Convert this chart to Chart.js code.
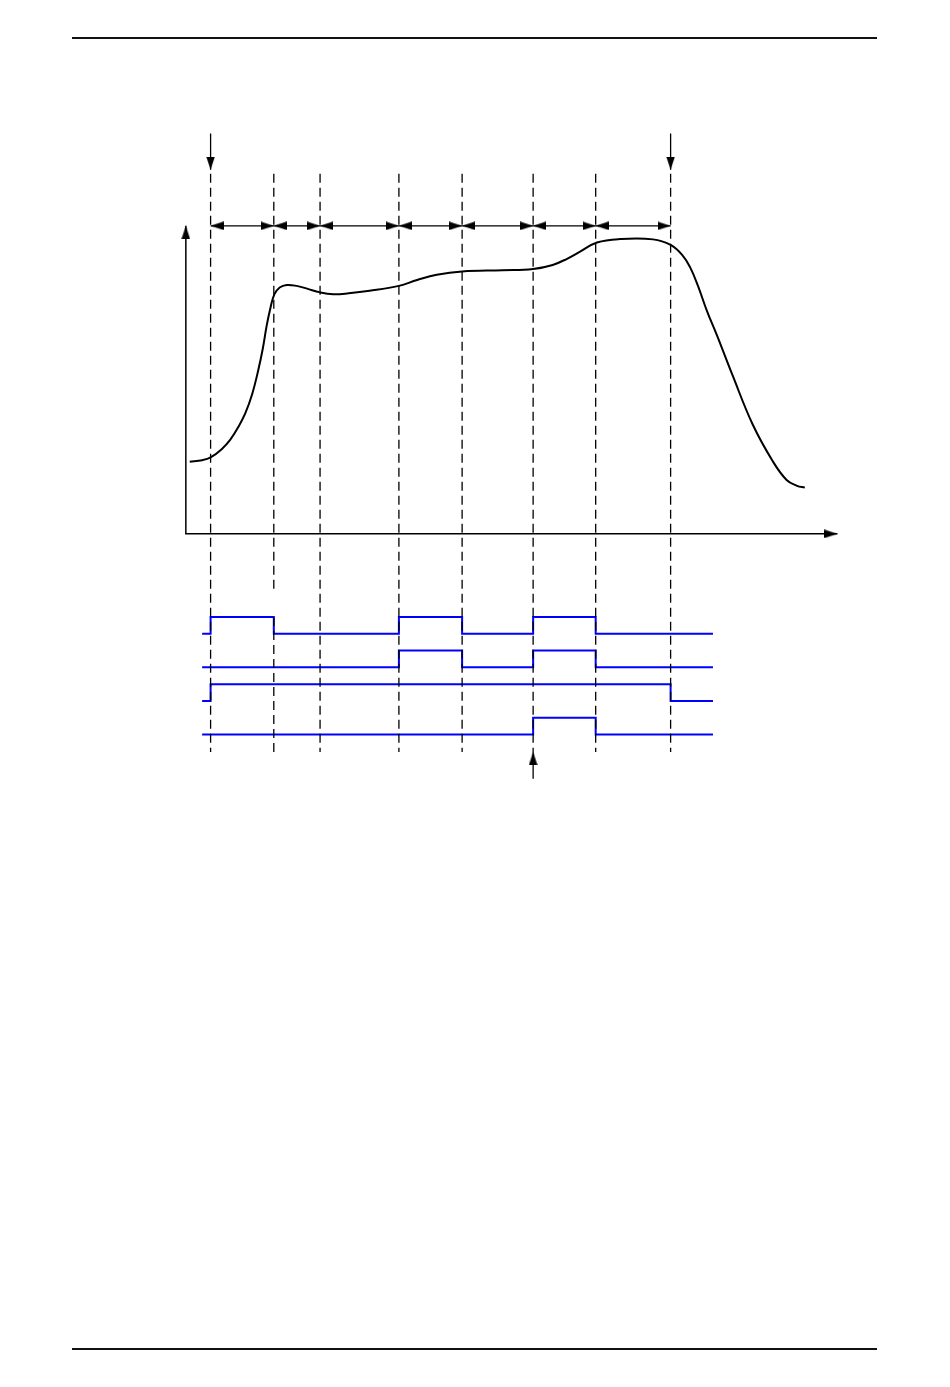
<!DOCTYPE html>
<html>
<head>
<meta charset="utf-8">
<title>Timing diagram</title>
<script src="https://cdn.jsdelivr.net/npm/chart.js@4.4.0/dist/chart.umd.min.js"></script>
<style>
    html, body { margin: 0; padding: 0; background: #fff; }
    body { width: 950px; height: 1387px; position: relative; overflow: hidden; }
    .rule { position: absolute; left: 72px; width: 805px; height: 2px; background: #111; }
    #chartBox { position: absolute; left: 150px; top: 110px; width: 720px; height: 690px; }
</style>
</head>
<body>
<div class="rule" style="top:37px"></div>
<div class="rule" style="top:1348px"></div>
<div id="chartBox"><canvas id="timingChart"></canvas></div>

<script>
// Time marks (dashed lines), in arbitrary time units
const edgeTimes = [3.8, 13.5, 20.6, 32.7, 42.4, 53.3, 62.9, 74.4];

// Main curve
const curveTimes  = [0.6, 2.5, 3.8, 5.5, 6.8, 8.0, 9.1, 10.2, 11.1, 11.8, 12.4, 13.0, 13.6, 14.4, 15.5, 17.0, 18.6, 20.6, 22.6, 25.0, 28.2, 32.7, 35.5, 38.5, 42.4, 48.6, 53.3, 56.3, 58.5, 60.5, 63.1, 66.6, 71.7, 74.4, 76.2, 77.4, 78.6, 80.0, 81.5, 83.9, 87.0, 90.1, 92.2, 93.8, 95.0];
const curveValues = [23.4, 23.9, 24.8, 27.5, 30.5, 34.5, 39.0, 45.5, 53.0, 60.0, 67.5, 73.5, 77.8, 80.0, 80.8, 80.5, 79.6, 78.4, 77.8, 78.1, 78.9, 80.5, 82.4, 84.1, 85.2, 85.6, 86.0, 87.3, 89.3, 91.6, 94.6, 95.7, 95.6, 93.8, 90.5, 86.5, 80.5, 72.2, 64.5, 51.5, 35.5, 23.5, 17.5, 15.6, 15.0];

// Logic signals: level in each segment (before first mark, between marks, after last mark)
const signal1 = [0, 1, 0, 0, 1, 0, 1, 0, 0];
const signal2 = [0, 0, 0, 0, 1, 0, 1, 0, 0];
const signal3 = [0, 1, 1, 1, 1, 1, 1, 1, 0];
const signal4 = [0, 0, 0, 0, 0, 0, 1, 0, 0];
const signals = [signal1, signal2, signal3, signal4];
const signalStart = 2.5;
const signalEnd = 80.9;

// Extents of the annotation lines (value units)
const axisTop = 100;
const axisEnd = 100;
const spanLevel = 100;
const markTop = 116.9;
const markBottom = -70.8;
const arrowTop = 130;
const arrowTip = 118.2;
const triggerLow = -79.5;

document.addEventListener("DOMContentLoaded", function () {
    // Small arrowhead image; tip sits at the image centre, points right at rotation 0
    const head = document.createElement("canvas");
    head.width = 26;
    head.height = 9;
    const hc = head.getContext("2d");
    hc.fillStyle = "#000";
    hc.beginPath();
    hc.moveTo(13, 4.5);
    hc.lineTo(0, 0.2);
    hc.lineTo(0, 8.8);
    hc.closePath();
    hc.fill();

    const datasets = [];

    // Dashed time marks (the second one is broken just above the signals)
    edgeTimes.forEach(function (t, i) {
        let pts = [{x: t, y: markTop}, {x: t, y: markBottom}];
        if (i === 1) {
            pts = [{x: t, y: markTop}, {x: t, y: -19}, {x: t, y: null}, {x: t, y: -27}, {x: t, y: markBottom}];
        }
        datasets.push({
            data: pts,
            showLine: true,
            spanGaps: false,
            borderColor: "#000",
            borderWidth: 1.3,
            borderDash: [9, 5],
            pointRadius: 0
        });
    });

    // Axes with arrowheads
    datasets.push({
        data: [{x: 0, y: axisTop}, {x: 0, y: 0}, {x: axisEnd, y: 0}],
        showLine: true,
        borderColor: "#000",
        borderWidth: 1.5,
        pointRadius: [6, 0, 6],
        pointStyle: head,
        rotation: [270, 0, 0]
    });

    // Double arrows between the marks
    const spanPts = [];
    const spanRot = [];
    edgeTimes.forEach(function (t, i) {
        if (i > 0) { spanPts.push({x: t, y: spanLevel}); spanRot.push(0); }
        if (i < edgeTimes.length - 1) { spanPts.push({x: t, y: spanLevel}); spanRot.push(180); }
    });
    datasets.push({
        data: spanPts,
        showLine: true,
        borderColor: "#000",
        borderWidth: 1.3,
        pointRadius: 6,
        pointStyle: head,
        rotation: spanRot
    });

    // Start / stop arrows on top
    [edgeTimes[0], edgeTimes[edgeTimes.length - 1]].forEach(function (t) {
        datasets.push({
            data: [{x: t, y: arrowTop}, {x: t, y: arrowTip}],
            showLine: true,
            borderColor: "#000",
            borderWidth: 1.3,
            pointRadius: [0, 6],
            pointStyle: head,
            rotation: 90
        });
    });

    // Trigger arrow below the signals
    datasets.push({
        data: [{x: edgeTimes[5], y: triggerLow}, {x: edgeTimes[5], y: markBottom}],
        showLine: true,
        borderColor: "#000",
        borderWidth: 1.3,
        pointRadius: [0, 6],
        pointStyle: head,
        rotation: 270
    });

    // Main curve
    datasets.push({
        data: curveTimes.map(function (t, i) { return {x: t, y: curveValues[i]}; }),
        showLine: true,
        borderColor: "#000",
        borderWidth: 2,
        tension: 0.4,
        pointRadius: 0
    });

    // Logic signals, one row each, 2 units apart on their own scale
    signals.forEach(function (levels, r) {
        const base = -2 * r;
        const pts = [{x: signalStart, y: base + levels[0]}];
        edgeTimes.forEach(function (t, i) {
            pts.push({x: t, y: base + levels[i + 1]});
        });
        pts.push({x: signalEnd, y: base + levels[levels.length - 1]});
        datasets.push({
            data: pts,
            yAxisID: "ys",
            showLine: true,
            stepped: "before",
            borderColor: "#0000ff",
            borderWidth: 2,
            pointRadius: 0
        });
    });

    new Chart(document.getElementById("timingChart"), {
        type: "scatter",
        data: { datasets: datasets },
        options: {
            responsive: true,
            maintainAspectRatio: false,
            animation: false,
            events: [],
            layout: { padding: 0, autoPadding: false },
            plugins: {
                legend: { display: false },
                tooltip: { enabled: false },
                title: { display: false }
            },
            scales: {
                x: { type: "linear", min: -5.5, max: 105, display: false },
                y: { type: "linear", min: -86.4, max: 137.6, display: false },
                ys: { type: "linear", min: -9.9, max: 31.2, display: false }
            }
        }
    });
});
</script>
</body>
</html>
